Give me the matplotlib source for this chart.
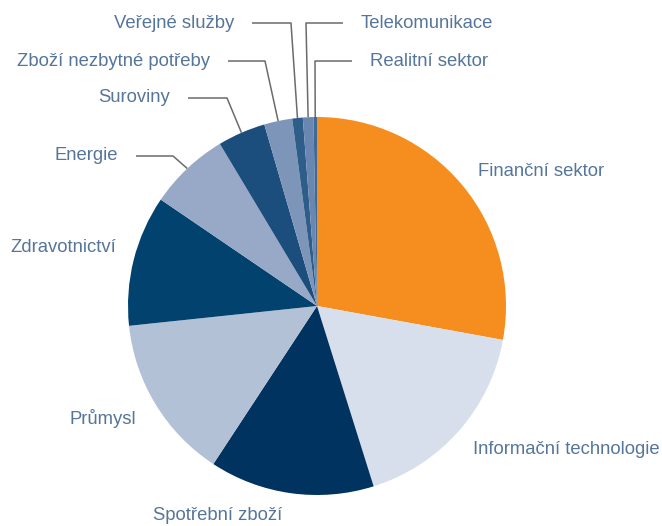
import matplotlib
matplotlib.use("Agg")
import matplotlib.pyplot as plt
import numpy as np

# sector weights in %, clockwise from 12 o'clock
sectors = ["Finanční sektor", "Informační technologie", "Spotřební zboží",
           "Průmysl", "Zdravotnictví", "Energie", "Suroviny",
           "Zboží nezbytné potřeby", "Veřejné služby", "Telekomunikace",
           "Realitní sektor"]
weights = [27.9, 17.3, 14.1, 14.1, 11.2, 6.9, 4.1, 2.4, 0.9, 0.9, 0.3]
colors = ["#F68E1F", "#D7DFEC", "#00335F", "#B3C1D7", "#02426F", "#97A9C6",
          "#1B4E7D", "#7C95B9", "#2F5D8A", "#6987B0", "#3F6A98"]

TXT = "#55759B"
FS = 13.3
H = 526
CX, CY, R = 317, H - 306, 189

plt.rcParams["font.family"] = ["Liberation Sans", "DejaVu Sans"]

fig = plt.figure(figsize=(6.62, 5.26), dpi=100)
ax = fig.add_axes([0, 0, 1, 1])
ax.axis("off")

wedges, _ = ax.pie(weights, colors=colors, startangle=90, counterclock=False,
                   center=(CX, CY), radius=R, wedgeprops=dict(linewidth=0))
ax.set_xlim(0, 662)
ax.set_ylim(0, H)
ax.set_aspect("equal")

# labels without leader lines: (x, y in px from top, ha)
plain = {
    "Finanční sektor": (478, 172, "left"),
    "Informační technologie": (473, 449, "left"),
    "Spotřební zboží": (218, 515, "center"),
    "Průmysl": (136, 418, "right"),
    "Zdravotnictví": (116, 248, "right"),
}
# labels with leader lines: (elbow x, line y, line end x, side)
leaders = {
    "Energie": (173, 156, 136, "left"),
    "Suroviny": (227, 98, 188, "left"),
    "Zboží nezbytné potřeby": (265, 61, 228, "left"),
    "Veřejné služby": (291, 23, 252, "left"),
    "Telekomunikace": (306, 23, 343, "right"),
    "Realitní sektor": (315, 61, 352, "right"),
}

for w, name in zip(wedges, sectors):
    if name in plain:
        x, y, ha = plain[name]
        ax.text(x, H - y, name, ha=ha, va="center", fontsize=FS, color=TXT)
    else:
        ex, ly, lx, side = leaders[name]
        mid = np.deg2rad((w.theta1 + w.theta2) / 2)
        px, py = CX + R * np.cos(mid), CY + R * np.sin(mid)
        ax.plot([px, ex, lx], [py, H - ly, H - ly], color="#6B6B6B", lw=1.1,
                solid_capstyle="butt")
        if side == "left":
            ax.text(lx - 18, H - ly, name, ha="right", va="center",
                    fontsize=FS, color=TXT)
        else:
            ax.text(lx + 18, H - ly, name, ha="left", va="center",
                    fontsize=FS, color=TXT)

fig.savefig("out.png", dpi=100)
